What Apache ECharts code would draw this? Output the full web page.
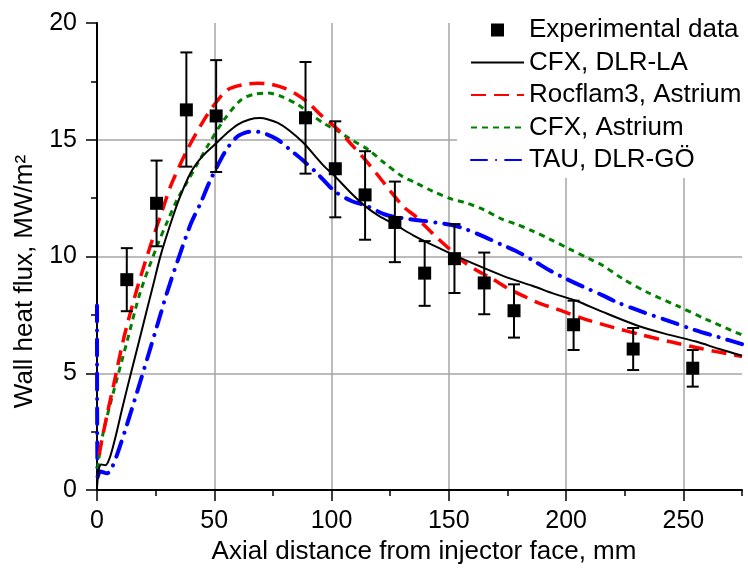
<!DOCTYPE html>
<html>
<head>
<meta charset="utf-8">
<script src="https://cdn.jsdelivr.net/npm/echarts@6/dist/echarts.min.js"></script>
<style>
  html, body { margin: 0; padding: 0; background: #fff; }
  #main { width: 748px; height: 570px; }
</style>
</head>
<body>
<div id="main"></div>
<script>
// experimental points (x in mm, every half inch)
var expX = [12.7, 25.4, 38.1, 50.8, 88.9, 101.6, 114.3, 127, 139.7, 152.4, 165.1, 177.8, 203.2, 228.6, 254];
var expY = [9.01, 12.28, 16.28, 16.02, 15.94, 13.76, 12.64, 11.46, 9.29, 9.91, 8.87, 7.68, 7.08, 6.04, 5.22];
var expHigh = [10.36, 14.11, 18.74, 18.41, 18.33, 15.79, 14.51, 13.21, 10.66, 11.39, 10.17, 8.81, 8.11, 6.94, 6.0];
var expLow = [7.66, 10.44, 13.85, 13.62, 13.55, 11.68, 10.72, 9.76, 7.89, 8.44, 7.53, 6.53, 6.0, 5.14, 4.43];

// simulations, [x mm, MW/m2]
var cfxDlr = [[0, 0.1], [0.8, 0.9], [1.8, 1.1], [3.6, 1.06], [5.5, 1.4], [7.8, 2.24], [11, 3.6], [14.3, 4.94],
  [17.5, 6.2], [20.7, 7.49], [24, 8.8], [27.1, 10.04], [31, 11.3], [35, 12.46], [40, 13.6], [45, 14.3],
  [51, 14.87], [55, 15.25], [60, 15.65], [65, 15.87], [69.5, 15.93], [73, 15.87], [77.1, 15.72], [82, 15.4],
  [88, 14.87], [93, 14.3], [97, 13.85], [101.3, 13.45], [108.5, 12.7], [114.2, 12.17], [120, 11.75],
  [127.8, 11.32], [135, 10.9], [145, 10.4], [152.7, 10.04], [165.6, 9.48], [175, 9.1], [185.6, 8.75],
  [195, 8.4], [204.3, 8.11], [215.6, 7.63], [230, 7.06], [242, 6.7], [255.4, 6.36], [265, 6.05], [275, 5.75]];
var rocflam = [[1, 1.5], [1.4, 1.8], [4.3, 3.23], [7.1, 4.51], [11.4, 6.5], [17.1, 8.63], [22.8, 10.47],
  [28.5, 12.17], [31.4, 13.02], [38.5, 14.58], [45.7, 15.86], [50, 16.5], [55.7, 17.14], [62, 17.35],
  [68.5, 17.42], [74, 17.38], [79.9, 17.21], [85, 16.95], [89.9, 16.6], [95, 16.1], [102.8, 15.43],
  [108, 14.85], [114.2, 14.16], [120, 13.45], [125.6, 12.74], [131, 12.1], [135.6, 11.74], [140, 11.3],
  [145.6, 10.75], [150, 10.35], [155.6, 9.83], [162, 9.4], [168.5, 9.05], [175, 8.65], [182.7, 8.27],
  [189, 7.98], [195.6, 7.77], [207, 7.35], [220, 6.97], [232, 6.65], [244.1, 6.36], [258, 6.05],
  [271.3, 5.79], [275, 5.72]];
var cfxAstrium = [[0.3, 0.9], [0.7, 1.3], [2.8, 2.53], [7.1, 4.23], [12.8, 6.36], [18.5, 8.49], [25.7, 10.47],
  [30, 11.5], [34.3, 12.46], [38.5, 13.2], [43, 14.0], [47.1, 14.72], [54.2, 15.86], [61.4, 16.71],
  [67, 16.95], [72.8, 17.0], [78, 16.88], [85.7, 16.5], [91, 16.1], [97.1, 15.68], [101.3, 15.45],
  [108.5, 15.0], [115.6, 14.58], [122, 14.05], [129.9, 13.45], [135.6, 13.17], [143, 12.8], [151.3, 12.46],
  [157, 12.31], [165, 12.0], [172.7, 11.6], [178.4, 11.4], [185.6, 11.1], [193, 10.75], [201.3, 10.33],
  [210, 9.9], [215.6, 9.62], [224.1, 9.05], [235, 8.45], [247, 7.91], [260, 7.3], [275, 6.64]];
var tauDlr = [[0, 7.9], [0.3, 0.55], [1.4, 0.8], [4.3, 0.72], [6.5, 1.0], [8.6, 1.53], [12.8, 2.81],
  [18.5, 4.66], [25.7, 7.06], [30, 8.5], [35, 10.0], [40, 11.4], [44.2, 12.3], [48, 13.2], [52.8, 14.16],
  [56, 14.7], [60, 15.15], [64, 15.33], [67.1, 15.36], [72, 15.25], [77.1, 15.0], [82, 14.6], [88, 14.1],
  [94, 13.55], [101.3, 12.8], [108.5, 12.38], [115, 12.17], [122.8, 11.8], [129.9, 11.65], [138.5, 11.53],
  [145, 11.45], [151.3, 11.35], [157, 11.18], [165, 10.85], [172.7, 10.5], [178.4, 10.25], [185.6, 9.85],
  [194, 9.35], [200, 9.05], [207, 8.72], [215.6, 8.34], [221.3, 8.06], [232, 7.65], [242.7, 7.28],
  [255, 6.85], [265, 6.55], [275, 6.25]];

var xMajor = [0, 50, 100, 150, 200, 250];
var seriesNames = ['Experimental data', 'CFX, DLR-LA', 'Rocflam3, Astrium', 'CFX, Astrium', 'TAU, DLR-GÖ'];

var expPoints = [];
var expBars = [];
for (var i = 0; i < expX.length; i++) {
    expPoints.push([expX[i], expY[i]]);
    expBars.push([expX[i], expLow[i], expHigh[i]]);
}

var font = 'Liberation Sans';
var chart = echarts.init(document.getElementById('main'));

// line entries of the legend: just the line, no marker in the middle
var noMarker = { opacity: 0 };

var option = {
    animation: false,
    textStyle: { fontFamily: font, color: '#000' },
    grid: { left: 97, right: 6, top: 23, bottom: 77 },
    legend: {
        orient: 'vertical',
        left: 457,
        top: 12,
        padding: [5, 8, 5, 13],
        itemGap: 6.5,
        itemWidth: 53,
        itemHeight: 13,
        backgroundColor: '#fff',
        textStyle: { fontSize: 26, color: '#000', fontFamily: font },
        data: [
            { name: seriesNames[0], icon: 'path://M0,0h10v10h-10z', itemStyle: { opacity: 1 } },
            { name: seriesNames[1], itemStyle: noMarker },
            { name: seriesNames[2], itemStyle: noMarker },
            { name: seriesNames[3], itemStyle: noMarker },
            { name: seriesNames[4], itemStyle: noMarker }
        ]
    },
    xAxis: [{
        type: 'value',
        min: 0,
        max: 275,
        interval: 25,
        position: 'bottom',
        name: 'Axial distance from injector face, mm',
        nameLocation: 'middle',
        nameGap: 45,
        nameTextStyle: { fontSize: 26, color: '#000', padding: [0, 0, 0, 9] },
        axisLine: { lineStyle: { color: '#000', width: 2 } },
        axisTick: { inside: false, length: 6, lineStyle: { color: '#000', width: 1.5 } },
        axisLabel: {
            fontSize: 25, color: '#000', margin: 19,
            formatter: function (v) { return xMajor.indexOf(v) >= 0 ? String(v) : ''; }
        },
        splitLine: {
            show: true, showMaxLine: false,
            lineStyle: { color: ['#a6a6a6', 'rgba(0,0,0,0)'], width: 1.5 }
        }
    }, {
        type: 'value',
        min: 0,
        max: 275,
        interval: 50,
        position: 'bottom',
        axisLine: { show: false },
        axisTick: { length: 11, customValues: xMajor, lineStyle: { color: '#000', width: 1.5 } },
        axisLabel: { show: false },
        splitLine: { show: false }
    }],
    yAxis: {
        type: 'value',
        min: 0,
        max: 20,
        interval: 5,
        name: 'Wall heat flux, MW/m²',
        nameLocation: 'middle',
        nameGap: 43,
        nameTextStyle: { fontSize: 26, color: '#000', padding: [0, 50, 0, 0] },
        axisLine: { show: true, lineStyle: { color: '#000', width: 2 } },
        axisTick: { show: true, length: 11, lineStyle: { color: '#000', width: 1.5 } },
        minorTick: { show: true, splitNumber: 2, length: 6, lineStyle: { color: '#000', width: 1.5 } },
        axisLabel: { fontSize: 25, color: '#000', margin: 20 },
        splitLine: { show: true, showMaxLine: false, lineStyle: { color: '#a6a6a6', width: 1.5 } }
    },
    series: [
        {
            name: seriesNames[4],
            type: 'line',
            data: tauDlr,
            symbol: 'none',
            smooth: 0.3,
            z: 2,
            lineStyle: { color: '#0000ff', width: 4, type: [16, 9, 0.1, 9], cap: 'round' },
            itemStyle: { color: '#0000ff' }
        },
        {
            name: seriesNames[3],
            type: 'line',
            data: cfxAstrium,
            symbol: 'none',
            smooth: 0.3,
            z: 3,
            lineStyle: { color: '#008000', width: 3, type: [6, 5] },
            itemStyle: { color: '#008000' }
        },
        {
            name: seriesNames[2],
            type: 'line',
            data: rocflam,
            symbol: 'none',
            smooth: 0.3,
            z: 4,
            lineStyle: { color: '#ff0000', width: 3.5, type: [15, 8] },
            itemStyle: { color: '#ff0000' }
        },
        {
            name: seriesNames[1],
            type: 'line',
            data: cfxDlr,
            symbol: 'none',
            smooth: 0.3,
            z: 5,
            lineStyle: { color: '#000', width: 2, type: 'solid' },
            itemStyle: { color: '#000' }
        },
        {
            type: 'custom',
            data: expBars,
            z: 6,
            renderItem: function (params, api) {
                var x = api.value(0);
                var lo = api.coord([x, api.value(1)]);
                var hi = api.coord([x, api.value(2)]);
                var w = 6;
                var st = { stroke: '#000', lineWidth: 2 };
                return {
                    type: 'group',
                    children: [
                        { type: 'line', shape: { x1: lo[0], y1: lo[1], x2: hi[0], y2: hi[1] }, style: st },
                        { type: 'line', shape: { x1: lo[0] - w, y1: lo[1], x2: lo[0] + w, y2: lo[1] }, style: st },
                        { type: 'line', shape: { x1: hi[0] - w, y1: hi[1], x2: hi[0] + w, y2: hi[1] }, style: st }
                    ]
                };
            }
        },
        {
            name: seriesNames[0],
            type: 'scatter',
            data: expPoints,
            symbol: 'rect',
            symbolSize: 13,
            z: 7,
            itemStyle: { color: '#000', opacity: 1 }
        }
    ]
};
chart.setOption(option);
</script>
</body>
</html>
